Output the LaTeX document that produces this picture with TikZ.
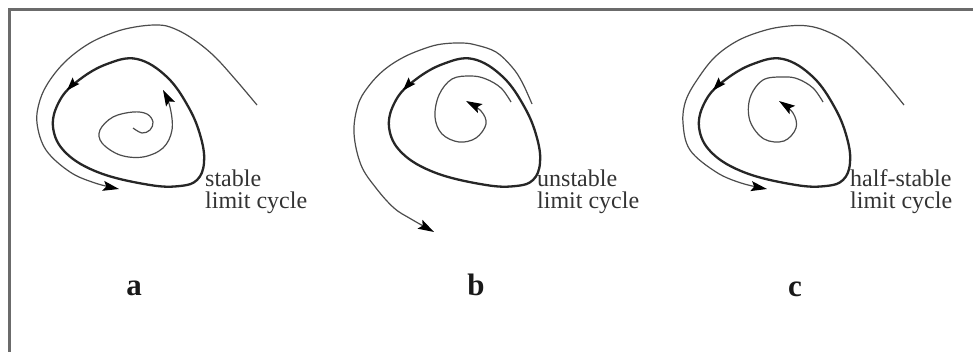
\documentclass[tikz,border=0pt]{standalone}
\usepackage{fontspec}
\setmainfont{Liberation Serif}
\newfontfamily\lblfont{Liberation Serif}
\usetikzlibrary{arrows.meta,decorations.markings}
\begin{document}
\begin{tikzpicture}[x=1pt,y=-1pt,
  cyc/.style={line width=2.3pt, black!85, postaction={decorate},
    decoration={markings, mark=at position 0.11 with {\arrow{Stealth[length=13pt,width=9pt,inset=2pt,black]}}}},
  traj/.style={line width=1.2pt, black!70},
  tip/.style={-{Stealth[length=16pt,width=10pt,inset=3pt,black]}},
  lbl/.style={anchor=base west, inner sep=0pt, font=\lblfont\fontsize{24}{22}\selectfont, text=black!80},
  panel/.style={anchor=base, inner sep=0pt, font=\lblfont\fontsize{31}{31}\selectfont\bfseries, text=black!90},
  frame/.style={line width=2.2pt, black!58}]
\useasboundingbox (0,0) rectangle (973,352);
\fill[white] (0,0) rectangle (973,352);
% frame (top and left edges visible)
\coordinate (f1) at (9.5,352);
\coordinate (f2) at (9.5,9.5);
\coordinate (f3) at (973,9.5);
\draw[frame] (f1) -- (f2) -- (f3);

% the limit cycle (shared)
\newcommand{\limitcyc}{\draw[cyc] plot[smooth cycle, tension=0.65] coordinates {(137,59) (107,64) (79,80) (60,100) (53,127) (66,153) (100,173) (150,185) (180,186) (197,180) (204,163) (201,138) (189,108) (167,77)};}

% ---- panel a ----
\begin{scope}
  \limitcyc
  \draw[traj,tip] plot[smooth, tension=0.6] coordinates {(257,105) (235,79) (213,55) (190,37) (170,27) (155,25) (135,27) (115,32) (90,43) (67,60) (50,80) (40,100) (37,123) (46,150) (70,172) (95,183) (119,189)};
  \draw[traj,tip] plot[smooth, tension=0.6] coordinates {(133,128) (142,133) (150,130) (153,122) (147,114) (133,112) (113,117) (100,130) (102,143) (120,155) (143,157) (163,148) (172,130) (170,107) (163,90)};
\end{scope}
\node[lbl] (ta1) at (205,187) {stable};
\node[lbl] (ta2) at (205,209) {limit cycle};
\node[panel] (pa) at (134,295) {a};

% ---- panel b ----
\begin{scope}[shift={(336,0)}]
  \limitcyc
  \draw[traj,tip] plot[smooth, tension=0.6] coordinates {(196,104) (186,82) (176,67) (160,52) (140,45) (126,43) (106,44) (90,48) (68,57) (48,70) (32,87) (22,105) (18,133) (25,165) (40,188) (58,208) (75,219) (98,232)};
  \draw[traj,tip] plot[smooth, tension=0.6] coordinates {(175,102) (165,88) (150,79) (135,76) (116,79) (103,95) (99,117) (106,134) (123,142) (140,138) (150,124) (145,111) (130,101)};
\end{scope}
\node[lbl] (tb1) at (537,187) {unstable};
\node[lbl] (tb2) at (537,209) {limit cycle};
\node[panel] (pb) at (476,295) {b};

% ---- panel c ----
\begin{scope}[shift={(646,0)}]
  \limitcyc
  \draw[traj,tip] plot[smooth, tension=0.6] coordinates {(258,105) (240,83) (222,63) (200,42) (180,31) (162,26) (143,26) (120,30) (93,40) (70,56) (53,77) (40,100) (37,123) (44,150) (70,172) (95,183) (121,189)};
  \draw[traj,tip] plot[smooth, tension=0.6] coordinates {(177,102) (167,88) (152,79) (138,77) (117,80) (104,98) (104,121) (118,139) (138,141) (150,128) (147,113) (133,101)};
\end{scope}
\node[lbl] (tc1) at (850,187) {half-stable};
\node[lbl] (tc2) at (850,209) {limit cycle};
\node[panel] (pc) at (795,296) {c};
\end{tikzpicture}
\end{document}
